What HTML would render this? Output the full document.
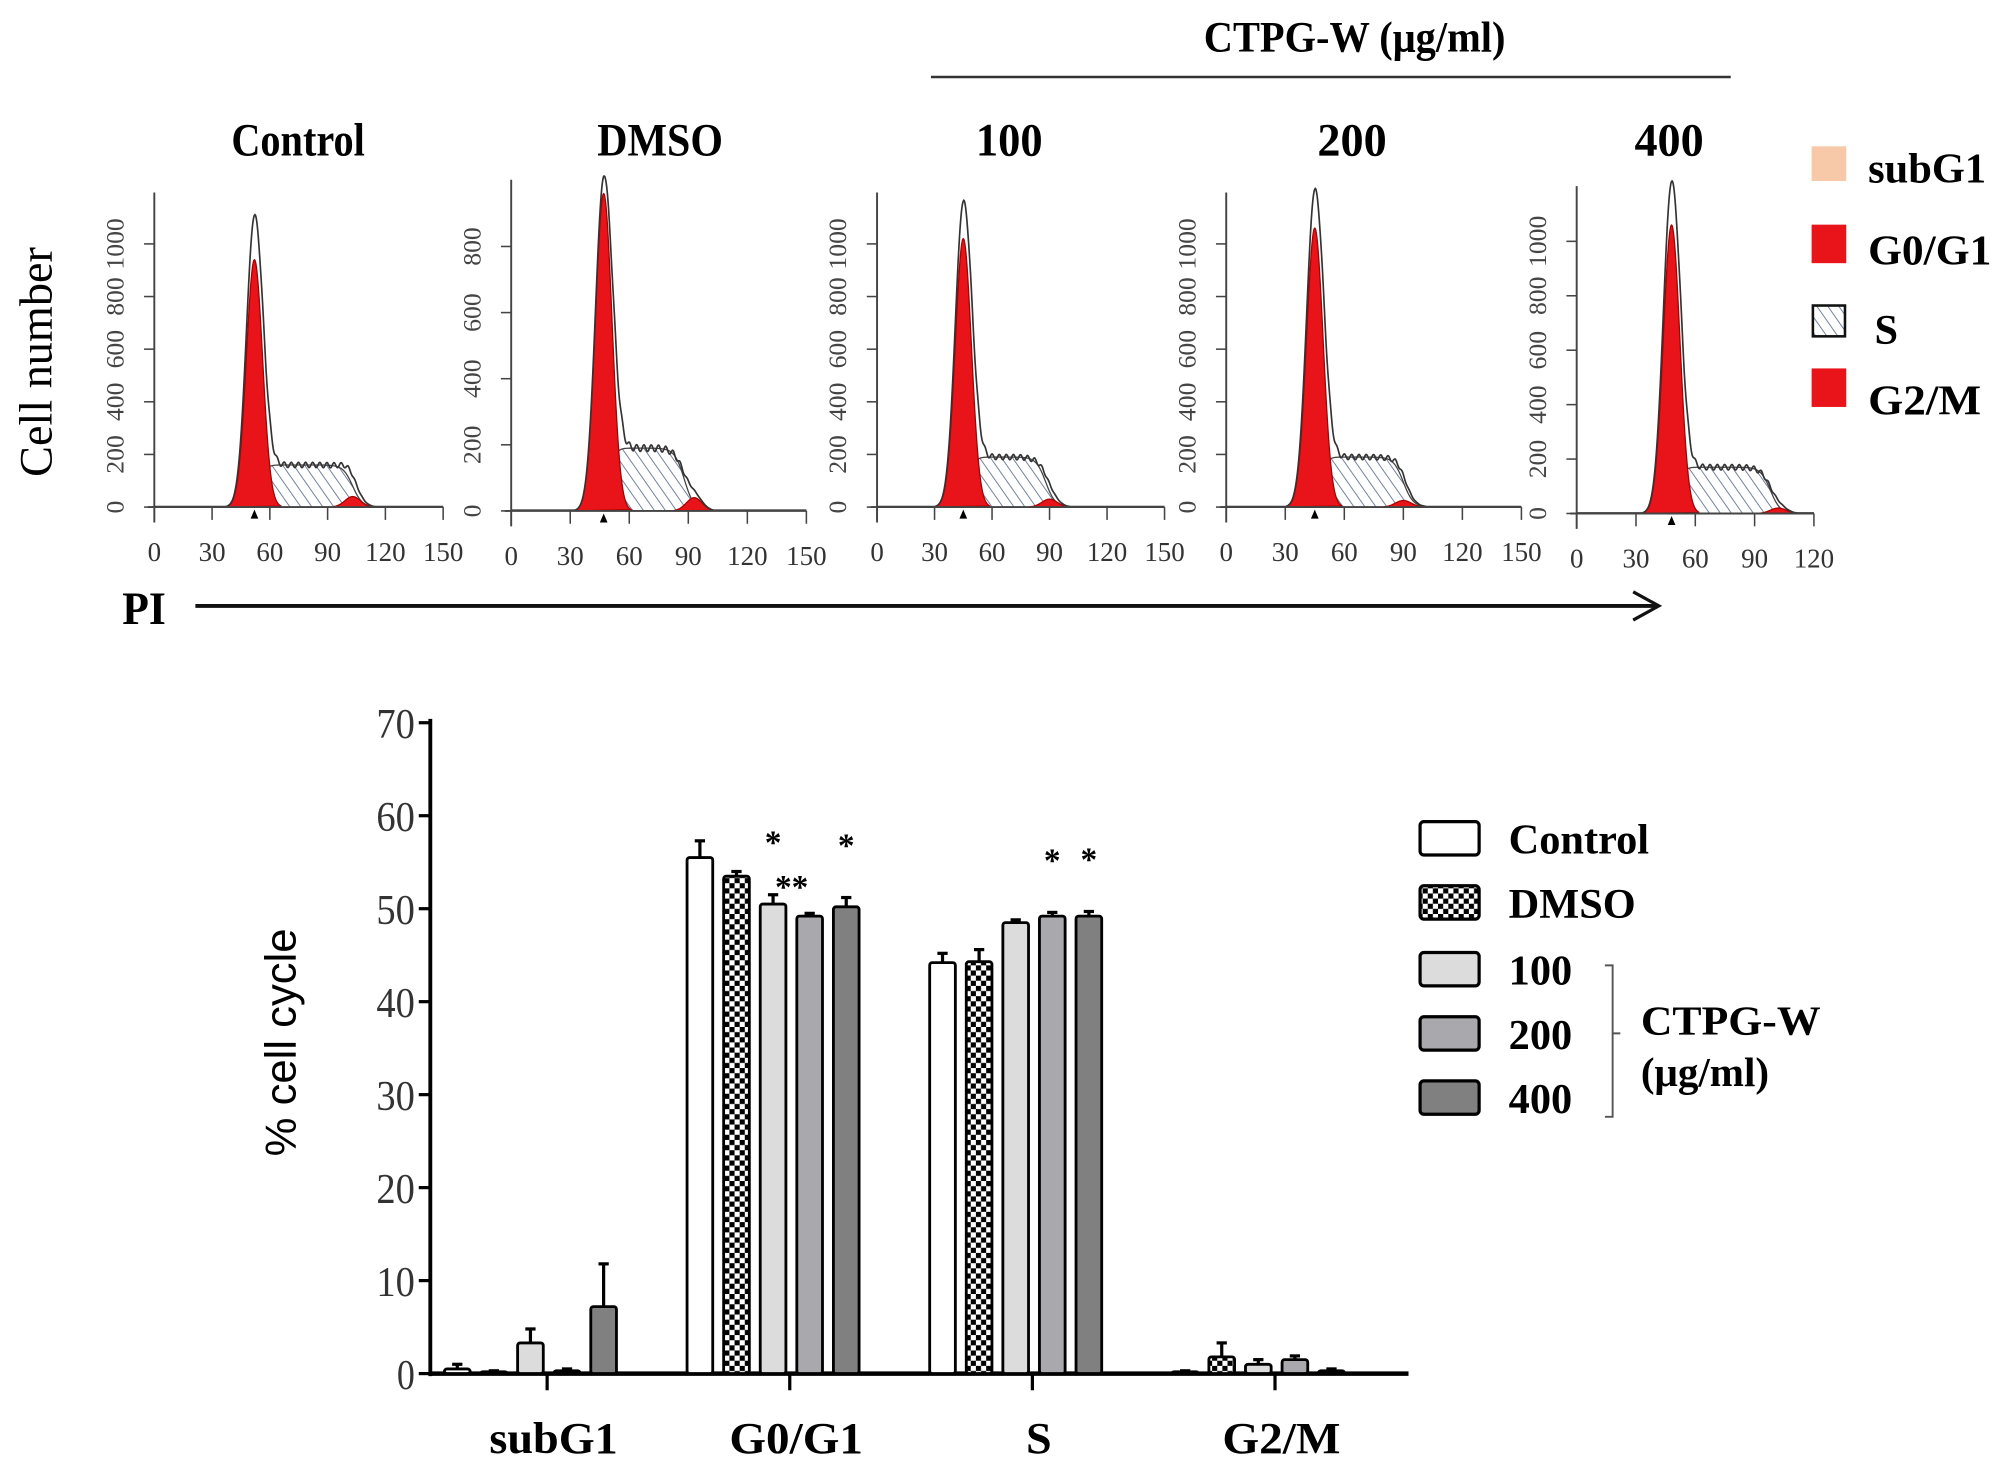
<!DOCTYPE html>
<html><head><meta charset="utf-8"><style>
html,body{margin:0;padding:0;background:#fff;}
svg{display:block;}
text{font-family:"Liberation Serif",serif;}
</style></head><body>
<svg id="fig" width="2007" height="1475" viewBox="0 0 1563 1149" xmlns="http://www.w3.org/2000/svg">
<defs>
<pattern id="hatch" width="7" height="7" patternUnits="userSpaceOnUse" patternTransform="rotate(-35)">
<rect width="7" height="7" fill="#fff"/><line x1="0" y1="0" x2="0" y2="7" stroke="#5a6a8a" stroke-width="1.3"/></pattern>
<pattern id="checker" width="8" height="8" patternUnits="userSpaceOnUse">
<rect width="8" height="8" fill="#fff"/><rect width="4" height="4" fill="#000"/><rect x="4" y="4" width="4" height="4" fill="#000"/></pattern>
</defs>
<g id="top">
<text x="1055" y="40" font-size="34" font-weight="bold" text-anchor="middle" textLength="235" lengthAdjust="spacingAndGlyphs">CTPG-W (μg/ml)</text>
<line x1="725" y1="60" x2="1348" y2="60" stroke="#333" stroke-width="2"/>
<text x="40" y="282" font-size="36" text-anchor="middle" transform="rotate(-90 40 282)">Cell number</text>
<text x="112" y="486" font-size="36" font-weight="bold" text-anchor="middle" textLength="34" lengthAdjust="spacingAndGlyphs">PI</text>
<line x1="152" y1="472" x2="1290" y2="472" stroke="#111" stroke-width="3"/>
<polyline points="1272,461 1292,472 1272,483" fill="none" stroke="#111" stroke-width="2.5"/>
</g>
<g id="hl">
<rect x="1411" y="114" width="27" height="27" fill="#f8c9a8"/>
<text x="1455" y="142" font-size="33" font-weight="bold" textLength="92" lengthAdjust="spacingAndGlyphs">subG1</text>
<rect x="1411" y="175" width="27" height="30" fill="#e8141a"/>
<text x="1455" y="206" font-size="33" font-weight="bold" textLength="96" lengthAdjust="spacingAndGlyphs">G0/G1</text>
<rect x="1412" y="238" width="25" height="24" fill="url(#hatch)" stroke="#111" stroke-width="2"/>
<text x="1460" y="268" font-size="33" font-weight="bold">S</text>
<rect x="1411" y="287" width="27" height="30" fill="#e8141a"/>
<text x="1455" y="323" font-size="33" font-weight="bold" textLength="88" lengthAdjust="spacingAndGlyphs">G2/M</text>
</g>
<g id="hists"></g>
<g id="bars"></g>
</svg>
<script>
const NS="http://www.w3.org/2000/svg";
// Histogram data
const panelTitles=["Control","DMSO","100","200","400"];
const g1Mean=[52,47,45,45,48];
const g1Peak=[940,960,1020,1060,1060];
const g1Outline=[1090,990,1140,1185,1200];
const sLevel=[160,190,190,190,170];
const sEnd=[103,88,88,90,98];
const g2Mean=[103,93,90,90,102];
const g2Height=[40,40,30,25,20];
const yTickVals=[[0,200,400,600,800,1000],[0,200,400,600,800],[0,200,400,600,800,1000],[0,200,400,600,800,1000],[0,200,400,600,800,1000]];
const xTickVals=[[0,30,60,90,120,150],[0,30,60,90,120,150],[0,30,60,90,120,150],[0,30,60,90,120,150],[0,30,60,90,120]];
const geo=[{x0:120,ppu:1.5,base:395,ppc:0.205,top:150,tx:232,tw:104},{x0:398,ppu:1.533,base:398,ppc:0.2575,top:140,tx:514,tw:98},{x0:683,ppu:1.493,base:395,ppc:0.205,top:150,tx:786,tw:52},{x0:955,ppu:1.533,base:395,ppc:0.205,top:150,tx:1053,tw:54},{x0:1228,ppu:1.54,base:400,ppc:0.212,top:145,tx:1300,tw:54}];

function mk(tag,attrs,parent){const e=document.createElementNS(NS,tag);for(const k in attrs)e.setAttribute(k,attrs[k]);parent.appendChild(e);return e;}
const H=document.getElementById('hists');
for(let p=0;p<5;p++){
 const g=geo[p];
 const gp=mk('g',{},H);
 
 
 const X=v=>g.x0+v*g.ppu, Y=c=>g.base-c*g.ppc;
 const xmax=xTickVals[p][xTickVals[p].length-1];
 const t=mk('text',{x:g.tx,y:121,'font-size':36,'font-weight':'bold','text-anchor':'middle',textLength:g.tw,lengthAdjust:'spacingAndGlyphs'},gp);
 t.textContent=panelTitles[p];
 
 
 const sig=4.2, m=g1Mean[p];
 const sFun=v=>{let r=1/(1+Math.exp(-(v-m-3)/1.5)); let f=1/(1+Math.exp((v-sEnd[p])/2.5)); return sLevel[p]*r*f;};
 const g1=v=>g1Peak[p]*Math.exp(-((v-m)**2)/(2*sig*sig));
 const g2=v=>g2Height[p]*Math.exp(-((v-g2Mean[p])**2)/(2*16));
 let d='M'+X(m)+','+Y(0);
 for(let v=m;v<=sEnd[p]+12;v+=0.5)d+=' L'+X(v)+','+Y(sFun(v));
 d+=' L'+X(sEnd[p]+12)+','+Y(0)+'Z';
 mk('path',{d:d,fill:'url(#hatch)',stroke:'#444','stroke-width':1},gp);
 d='M'+X(m-14)+','+Y(0);
 for(let v=m-14;v<=m+14;v+=0.25)d+=' L'+X(v)+','+Y(g1(v));
 d+='Z';
 mk('path',{d:d,fill:'#e8141a',stroke:'#a00','stroke-width':1},gp);
 d='M'+X(g2Mean[p]-10)+','+Y(0);
 for(let v=g2Mean[p]-10;v<=g2Mean[p]+10;v+=0.5)d+=' L'+X(v)+','+Y(g2(v));
 d+='Z';
 mk('path',{d:d,fill:'#e8141a',stroke:'#a00','stroke-width':1},gp);
 const scale=g1Outline[p]/g1Peak[p];
 d='';
 for(let v=0;v<=xmax;v+=0.25){const c=g1(v)*scale+sFun(v)+g2(v)+(v>m?10*Math.sin(v*1.7):0)*(sFun(v)/sLevel[p]);d+=(v===0?'M':' L')+X(v)+','+Y(Math.max(2,c));}
 mk('path',{d:d,fill:'none',stroke:'#333','stroke-width':1.3},gp);
 mk('line',{x1:g.x0,y1:g.top,x2:g.x0,y2:g.base+12,stroke:'#444','stroke-width':1.5},gp);
 mk('line',{x1:g.x0-5,y1:g.base,x2:X(xmax),y2:g.base,stroke:'#444','stroke-width':1.5},gp);
 mk('path',{d:`M${X(m)-3},${g.base+9} L${X(m)},${g.base+2} L${X(m)+3},${g.base+9}Z`,fill:'#000'},gp);
 for(const v of xTickVals[p]){
  mk('line',{x1:X(v),y1:g.base,x2:X(v),y2:g.base+10,stroke:'#444','stroke-width':1.2},gp);
  const tt=mk('text',{x:X(v),y:g.base+42,'font-size':21,'text-anchor':'middle',fill:'#333'},gp);
  tt.textContent=v;
  
  
 }
 for(const v of yTickVals[p]){
  mk('line',{x1:g.x0-8,y1:Y(v),x2:g.x0,y2:Y(v),stroke:'#444','stroke-width':1.2},gp);
  const tx=g.x0-24, ty=Y(v);
  const tt=mk('text',{x:tx,y:ty,'font-size':20,'text-anchor':'middle',fill:'#444',transform:`rotate(-90 ${tx} ${ty})`},gp);
  tt.textContent=v;
  
  
 }
}

// Bar chart data
const categories=["subG1","G0/G1","S","G2/M"];
const seriesNames=["Control","DMSO","100","200","400"];
const valControl=[0.5,55.5,44.2,0.2];
const valDMSO=[0.2,53.5,44.3,1.8];
const val100=[3.3,50.5,48.5,1.0];
const val200=[0.3,49.2,49.2,1.5];
const val400=[7.2,50.2,49.2,0.3];
const errControl=[0.5,1.8,1.0,0.1];
const errDMSO=[0.1,0.5,1.3,1.5];
const err100=[1.5,1.0,0.3,0.5];
const err200=[0.2,0.3,0.4,0.4];
const err400=[4.6,1.0,0.5,0.2];
const sigMarks=[["","","",""],["","","",""],["","*","",""],["","**","*",""],["","*","*",""]];
const yTicks=[0,10,20,30,40,50,60,70];
const values=[valControl,valDMSO,val100,val200,val400];
const errs=[errControl,errDMSO,err100,err200,err400];
const fills=['#ffffff','url(#checker)','#dcdcdc','#a9a9ad','#808080'];

const B=document.getElementById('bars');
const y0=1070, yPer=(1070-563)/70;
const yS=v=>y0-v*yPer;
const catX=i=>426+i*189;
const barX=(i,s)=>catX(i)-13+(s-2)*28.5;
const bw=20;
mk('line',{x1:335,y1:560,x2:335,y2:1072,stroke:'#000','stroke-width':3},B);
mk('line',{x1:334,y1:1070,x2:1097,y2:1070,stroke:'#000','stroke-width':3.5},B);
for(const v of yTicks){
 mk('line',{x1:326,y1:yS(v),x2:335,y2:yS(v),stroke:'#000','stroke-width':2.5},B);
 const t=mk('text',{x:323,y:yS(v)+12,'font-size':33,'text-anchor':'end',fill:'#333',textLength:v===0?14:30,lengthAdjust:'spacingAndGlyphs'},B);
 t.textContent=v;
 
 
}
const yt=mk('text',{x:230,y:812,'font-size':34,'text-anchor':'middle',transform:'rotate(-90 230 812)',style:'font-family:"Liberation Sans",sans-serif'},B);
yt.textContent='% cell cycle';


const catW=[100,104,20,92];
categories.forEach((c,i)=>{
 mk('line',{x1:catX(i),y1:1070,x2:catX(i),y2:1083,stroke:'#000','stroke-width':2.5},B);
 const t=mk('text',{x:catX(i)+5,y:1132,'font-size':35,'font-weight':'bold','text-anchor':'middle',textLength:catW[i],lengthAdjust:'spacingAndGlyphs'},B);
 t.textContent=c;
 
 
 for(let s=0;s<5;s++){
  const v=values[s][i], e=errs[s][i], cx=barX(i,s);
  mk('line',{x1:cx,y1:yS(v),x2:cx,y2:yS(v+e),stroke:'#000','stroke-width':2.5},B);
  mk('line',{x1:cx-4,y1:yS(v+e),x2:cx+4,y2:yS(v+e),stroke:'#000','stroke-width':2.5},B);
  const r=mk('rect',{x:cx-bw/2,y:yS(v),width:bw,height:Math.max(0.5,yS(0)-yS(v)),fill:fills[s],stroke:'#000','stroke-width':2.2,rx:2},B);
  
  
  if(sigMarks[s][i]){
   const st=mk('text',{x:cx-(sigMarks[s][i].length>1?14:0),y:yS(v+e)-(sigMarks[s][i].length>1?12:32),'font-size':26,'font-weight':'bold','text-anchor':'middle'},B);
   st.textContent=sigMarks[s][i];
   
   
  }
 }
});
const legY=[653,703,755,805,855];
seriesNames.forEach((n,s)=>{
 const r=mk('rect',{x:1106,y:legY[s]-13,width:46,height:26,fill:fills[s],stroke:'#000','stroke-width':2.5,rx:3},B);
 
 
 const t=mk('text',{x:1175,y:legY[s]+12,'font-size':33,'font-weight':'bold'},B);
 t.textContent=n;
 
 
});
mk('path',{d:'M1250,752 L1256,752 L1256,870 L1250,870 M1256,805 L1262,805',fill:'none',stroke:'#555','stroke-width':1.5},B);
const l1=mk('text',{x:1278,y:806,'font-size':32,'font-weight':'bold',textLength:140,lengthAdjust:'spacingAndGlyphs'},B);
l1.textContent='CTPG-W';


const l2=mk('text',{x:1278,y:846,'font-size':32,'font-weight':'bold'},B);
l2.textContent='(μg/ml)';


</script>
</body></html>
